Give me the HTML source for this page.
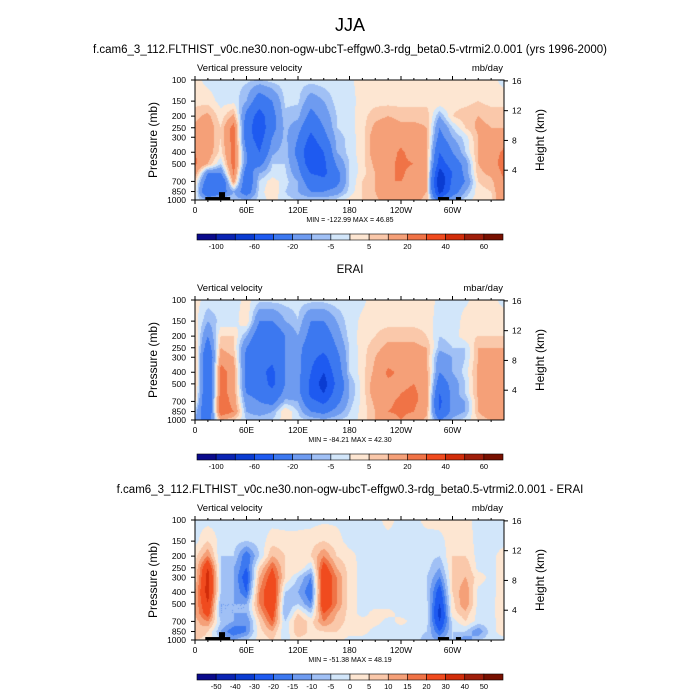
<!DOCTYPE html>
<html><head><meta charset="utf-8"><style>
body{margin:0;background:#fff;}
#wrap{position:relative;width:700px;height:700px;overflow:hidden;font-family:"Liberation Sans",sans-serif;}
canvas{position:absolute;left:195px;}
svg{position:absolute;left:0;top:0;}
</style></head><body>
<div id="wrap">
<canvas id="c1" width="309" height="120" style="top:80px"></canvas>
<canvas id="c2" width="309" height="120" style="top:300px"></canvas>
<canvas id="c3" width="309" height="120" style="top:520px"></canvas>
<svg id="s" width="700" height="700"></svg>
</div>
<script>
const lons=[0,15,30,45,60,75,90,105,120,135,150,165,180,195,210,225,240,255,270,285,300,315,330,345,360];
const levs=[100,150,200,250,300,400,500,600,700,850,1000];
const colors=["#0a0a8c","#0a24b4","#0a3cd2","#1e5af0","#3c78f0","#6e9bf0","#a0c0f5","#d2e6fa","#fde6d2","#fac8aa","#f5a078","#f07346","#f04b1e","#d22d0a","#a01e0a","#781000"];
const bnd1=[-100,-80,-60,-40,-20,-10,-5,0,5,10,20,30,40,50,60];
const bnd3=[-50,-40,-30,-20,-15,-10,-5,0,5,10,15,20,30,40,50];
const lab1=["-100","-60","-20","-5","5","20","40","60"];
const lab3=["-50","-40","-30","-20","-15","-10","-5","0","5","10","15","20","30","40","50"];
const lonTicks=["0","60E","120E","180","120W","60W"];
const pTicks=[100,150,200,250,300,400,500,700,850,1000];
const hTicks=[16,12,8,4];
const model=[
[2,3,8,12,12,20,22,15,5,3,0],[-2,3,12,15,15,15,10,-20,-30,-40,-10],[-3,-2,2,5,5,3,-5,-20,-40,-30,0],
[-3,-2,12,25,25,25,25,22,15,-10,-5],[-4,-10,-25,-30,-30,-20,-20,-30,-35,-30,-10],[-5,-30,-50,-55,-50,-40,-25,-10,-5,-3,-3],
[-3,-20,-25,-25,-20,-12,-5,-3,3,5,2],[-2,-4,-6,-8,-8,-6,-5,-4,-3,-5,-3],[-3,-4,-8,-15,-20,-25,-20,-15,-10,-10,-5],
[-3,-15,-25,-35,-45,-60,-55,-40,-30,-20,-5],[-2,-10,-15,-20,-25,-40,-45,-45,-35,-20,-5],[-2,-3,-5,-5,-8,-10,-18,-25,-25,-15,-3],
[-1,-2,-2,-2,-3,-3,-5,-5,-5,-3,2],[2,2,3,3,3,3,3,3,5,5,5],[2,3,8,12,15,15,12,10,10,10,8],
[2,3,10,15,15,15,18,18,20,20,15],[2,3,8,12,15,22,22,22,20,18,15],[2,3,8,12,12,15,20,15,15,15,12],
[2,3,8,10,10,12,12,12,12,10,8],[3,5,-10,-20,-25,-40,-50,-70,-80,-70,-30],[2,3,5,-5,-10,-20,-30,-40,-35,-30,-10],
[2,3,8,5,-3,-5,-15,-15,-20,-10,-3],[2,5,10,12,10,10,10,8,5,3,3],[2,3,8,10,12,15,15,12,8,5,3],
[-2,3,8,10,15,22,25,22,20,20,20]];
const erai=[
[2,3,5,8,10,10,10,8,5,-5,-10],[-2,-10,-20,-30,-40,-40,-40,-40,-40,-40,-30],[-2,-3,5,10,15,25,25,25,30,30,10],
[-3,-3,5,5,10,15,15,15,15,20,5],[2,5,-10,-20,-25,-25,-25,-20,-15,-10,-5],[-3,-20,-30,-35,-35,-35,-30,-25,-20,-15,-5],
[-3,-20,-35,-35,-35,-45,-45,-35,-25,-10,-5],[-3,-10,-20,-20,-20,-20,-20,-15,-8,5,3],[-3,-5,-10,-15,-15,-15,-15,-15,-10,-5,-3],
[-3,-20,-25,-30,-35,-40,-45,-45,-35,-20,-5],[-3,-20,-30,-35,-45,-60,-70,-60,-45,-25,-8],[-2,-10,-15,-20,-25,-30,-35,-30,-25,-15,-5],
[-2,-2,-3,-5,-5,-5,-10,-10,-8,-5,-3],[-1,1,2,3,3,3,2,2,2,2,2],[2,3,5,8,10,12,15,15,12,10,10],
[2,3,8,12,15,22,18,15,18,20,15],[2,3,8,12,15,18,18,20,22,22,20],[2,3,8,12,15,15,20,22,22,20,15],
[2,3,5,10,10,12,15,15,15,12,8],[-1,-3,-5,-8,-15,-20,-30,-40,-45,-40,-20],[-2,-3,-3,-5,-10,-10,-15,-15,-15,-15,-8],
[-1,2,3,-5,-5,-3,-5,-5,-10,-10,-3],[2,3,5,10,10,12,12,12,10,10,5],[2,3,5,10,12,12,15,15,12,20,10],
[-2,3,5,10,10,12,15,15,12,12,10]];
const diff=[
[-2,-2,3,5,5,10,10,10,8,10,5],[-2,5,15,30,35,35,30,25,15,5,3],[-2,-2,-5,-5,-5,-5,-10,-10,-5,-10,-5],
[-2,-3,-5,-10,-10,-10,-10,-10,-10,-20,-10],[-2,-5,-20,-20,-25,-20,-10,-10,-15,-15,-5],[-2,-3,-5,5,10,15,15,10,5,3,2],
[-2,3,10,20,25,30,30,25,20,10,5],[-2,2,5,5,5,-5,-10,-10,-5,-5,-2],[-2,2,3,5,-5,-10,-5,5,10,10,3],
[-2,3,5,-5,-15,-20,-15,-5,3,3,2],[-1,5,15,25,30,30,30,20,15,5,3],[-1,2,5,10,15,15,15,10,8,5,2],
[-2,-2,2,3,3,3,3,3,3,2,-2],[-2,-2,-2,-2,-2,-2,-2,-2,2,2,-2],[-2,-2,-2,-2,-2,-2,-2,2,2,-2,-2],
[2,-2,-2,-2,-2,-2,-2,2,-2,-2,-2],[-2,-2,-2,-2,-2,-2,-2,-2,2,-3,-2],[-2,-2,-2,-2,-2,-2,-2,-2,-2,-3,-2],
[2,-3,-3,-3,-5,-5,-3,-3,-3,-5,-8],[2,-2,-5,-10,-15,-25,-30,-35,-30,-20,-10],[2,3,5,5,5,5,3,3,-3,-5,-5],
[2,3,5,10,10,15,15,8,5,-5,-15],[-2,-2,-2,-2,3,-2,-2,-2,-2,-15,-5],[-2,-2,-2,-2,-2,-2,-2,-2,-2,-2,-2],
[-2,-2,3,3,3,3,5,5,3,3,-2]];
const topo=[[12,41,1000,945],[28,35,1000,860],[283,296,1000,945],[304,310,1000,945]];

const X0=195,W=309,H=120;
const xOf=l=>X0+l*W/360;
const yOf=(p,top)=>top+H*Math.log10(p/100);
function val(g,lon,lp){
  let i=Math.min(lons.length-2,Math.floor(lon/15)),fx=(lon-lons[i])/15;
  let lgs=levs.map(v=>Math.log10(v)),j=0;
  while(j<levs.length-2&&lp>lgs[j+1])j++;
  let fy=(lp-lgs[j])/(lgs[j+1]-lgs[j]);
  return g[i][j]*(1-fx)*(1-fy)+g[i+1][j]*fx*(1-fy)+g[i][j+1]*(1-fx)*fy+g[i+1][j+1]*fx*fy;
}
function cls(v,b){let k=0;while(k<b.length&&v>=b[k])k++;return k;}
function draw(id,g,b){
  const ctx=document.getElementById(id).getContext('2d');
  for(let px=0;px<W;px++)for(let py=0;py<H;py++){
    const lon=(px+0.5)*360/W, lp=2+(py+0.5)/H;
    ctx.fillStyle=colors[cls(val(g,lon,lp),b)];ctx.fillRect(px,py,1,1);
  }
}
draw('c1',model,bnd1);draw('c2',erai,bnd1);draw('c3',diff,bnd3);

const s=document.getElementById('s');const NS='http://www.w3.org/2000/svg';
function el(t,a,txt){const e=document.createElementNS(NS,t);for(const k in a)e.setAttribute(k,a[k]);if(txt!=null)e.textContent=txt;s.appendChild(e);return e;}
let e;
e=el('text',{x:350,y:31,'text-anchor':'middle','font-size':18},'JJA');


function panel(top,title,left,right,cbTop,b,labs,minmax,hasTopo,pn){
  e=el('text',{x:350,y:top-27,'text-anchor':'middle','font-size':11.5},title);
  
  
  e=el('text',{x:197,y:top-9,'font-size':9.5},left);
  
  
  e=el('text',{x:503,y:top-9,'text-anchor':'end','font-size':9.5},right);
  
  
  if(hasTopo){for(const t of topo){
    e=el('rect',{x:xOf(t[0]),y:yOf(t[3],top),width:xOf(t[1])-xOf(t[0]),height:yOf(t[2],top)-yOf(t[3],top),fill:'#000'});
    
    
  }}
  e=el('rect',{x:X0,y:top,width:W,height:H,fill:'none',stroke:'#000','stroke-width':1});
  
  
  lonTicks.forEach((l,i)=>{const x=xOf(i*60);
    el('line',{x1:x,x2:x,y1:top+H,y2:top+H+4,stroke:'#000'});el('line',{x1:x,x2:x,y1:top,y2:top-4,stroke:'#000'});
    e=el('text',{x:x,y:top+H+13,'text-anchor':'middle','font-size':8.5},l);
    
    
  });
  for(let l=15;l<360;l+=15){if(l%60){const x=xOf(l);el('line',{x1:x,x2:x,y1:top+H,y2:top+H+2,stroke:'#000'});el('line',{x1:x,x2:x,y1:top,y2:top-2,stroke:'#000'});}}
  pTicks.forEach(p=>{const y=yOf(p,top);el('line',{x1:X0-4,x2:X0,y1:y,y2:y,stroke:'#000'});
    e=el('text',{x:X0-9,y:y+3,'text-anchor':'end','font-size':8.5},p);
    
    
  });
  hTicks.forEach(h=>{const p=1000*Math.exp(-h/7);const y=yOf(p,top);el('line',{x1:X0+W,x2:X0+W+4,y1:y,y2:y,stroke:'#000'});
    e=el('text',{x:X0+W+8,y:y+3,'font-size':8.5},h);
    
    
  });
  e=el('text',{x:0,y:0,'text-anchor':'middle','font-size':12,transform:`translate(157,${top+60}) rotate(-90)`},'Pressure (mb)');
  
  
  e=el('text',{x:0,y:0,'text-anchor':'middle','font-size':12,transform:`translate(544,${top+60}) rotate(-90)`},'Height (km)');
  
  
  e=el('text',{x:350,y:top+H+22,'text-anchor':'middle','font-size':7},minmax);
  
  
  const cw=306/16;
  colors.forEach((c,i)=>{e=el('rect',{x:197+i*cw,y:cbTop,width:cw,height:6,fill:c,stroke:'#000','stroke-width':0.6});
    
    });
  labs.forEach((l,i)=>{const k=labs.length<10?2*i:i;const x=197+(k+1)*cw;
    e=el('text',{x:x,y:cbTop+15,'text-anchor':'middle','font-size':7.5},l);
    
    });
}
panel(80,'f.cam6_3_112.FLTHIST_v0c.ne30.non-ogw-ubcT-effgw0.3-rdg_beta0.5-vtrmi2.0.001 (yrs 1996-2000)','Vertical pressure velocity','mb/day',234,bnd1,lab1,'MIN = -122.99  MAX =  46.85',true,'model');
panel(300,'ERAI','Vertical velocity','mbar/day',454,bnd1,lab1,'MIN = -84.21  MAX =  42.30',false,'erai');
panel(520,'f.cam6_3_112.FLTHIST_v0c.ne30.non-ogw-ubcT-effgw0.3-rdg_beta0.5-vtrmi2.0.001 - ERAI','Vertical velocity','mb/day',674,bnd3,lab3,'MIN = -51.38  MAX =  48.19',true,'diff');
</script>
</body></html>
